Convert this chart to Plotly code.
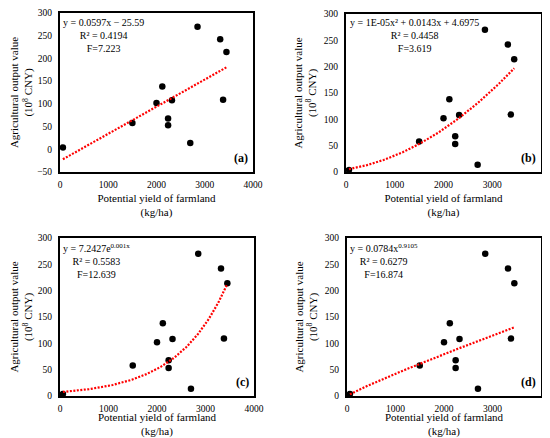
import numpy as np
import plotly.graph_objects as go

# observed data (same points in all four panels)
yield_x = [60, 1500, 2000, 2120, 2240, 2240, 2320, 2700, 2850, 3320, 3380, 3450]
output_y = [4, 58, 102, 138, 68, 53, 108, 14, 270, 242, 109, 214]

# fitted model coefficients
lin_coef = [0.0597, -25.59]
poly_coef = [1.2e-05, 0.0143, 4.6975]
exp_coef = [7.2427, 0.00098]
pow_coef = [0.0784, 0.9105]

panel_labels = ["(a)", "(b)", "(c)", "(d)"]
eq_texts = [
    "y = 0.0597x − 25.59<br>R² = 0.4194<br>F=7.223",
    "y = 1E-05x² + 0.0143x + 4.6975<br>R² = 0.4458<br>F=3.619",
    "y = 7.2427e<sup>0.001x</sup><br>R² = 0.5583<br>F=12.639",
    "y = 0.0784x<sup>0.9105</sup><br>R² = 0.6279<br>F=16.874",
]
y_ranges = [[-50, 300], [0, 300], [0, 300], [0, 300]]
x_range = [0, 4000]

# page has an 8px body margin, so the figure is a bit smaller and shifted
W, H = 542, 430
OX, OY = -5, -2
FONT = "Liberation Serif"

xs = np.linspace(min(yield_x), max(yield_x), 120)
fits = [
    lin_coef[0] * xs + lin_coef[1],
    poly_coef[0] * xs**2 + poly_coef[1] * xs + poly_coef[2],
    exp_coef[0] * np.exp(exp_coef[1] * xs),
    pow_coef[0] * xs ** pow_coef[1],
]

# panel boxes in reference pixels: (left, right, top, bottom)
boxes = [
    (57, 250, 7, 166),
    (343, 538, 8, 166),
    (57, 251, 232, 390),
    (344, 538, 232, 390),
]
eq_centers = [(100, 9), (411, 9), (93, 234), (381, 234)]


def px(x):
    return (x + OX) / W


def py(y):
    return 1 - (y + OY) / H


fig = go.Figure()
layout = {}

for i in range(4):
    ax = "" if i == 0 else str(i + 1)
    l, r, t, b = boxes[i]

    fig.add_trace(
        go.Scatter(
            x=yield_x, y=output_y, mode="markers",
            marker=dict(size=6.5, color="black"),
            xaxis="x" + ax, yaxis="y" + ax, showlegend=False,
        )
    )
    fig.add_trace(
        go.Scatter(
            x=xs, y=fits[i], mode="lines",
            line=dict(color="red", dash="2px,1.5px", width=2.2),
            xaxis="x" + ax, yaxis="y" + ax, showlegend=False,
        )
    )

    layout["xaxis" + ax] = dict(
        domain=[px(l), px(r)], anchor="y" + ax,
        range=x_range, dtick=1000,
        showgrid=False, zeroline=False, automargin=False,
        showline=True, mirror=True, linecolor="black", linewidth=2,
        tickfont=dict(family=FONT, size=9.5, color="black"),
        ticklabelstandoff=3,
        title=dict(
            text="Potential yield of farmland<br>(kg/ha)",
            font=dict(family=FONT, size=11, color="black"),
            standoff=5,
        ),
    )
    layout["yaxis" + ax] = dict(
        domain=[py(b), py(t)], anchor="x" + ax,
        range=y_ranges[i], dtick=50,
        showgrid=False, zeroline=False, automargin=False,
        showline=True, mirror=True, linecolor="black", linewidth=2,
        tickfont=dict(family=FONT, size=9.5, color="black"),
        ticklabelstandoff=4,
        title=dict(
            text="Agricultural output value<br>(10<sup>8</sup> CNY)",
            font=dict(family=FONT, size=11, color="black"),
            standoff=5,
        ),
    )

    cx, cy = eq_centers[i]
    fig.add_annotation(
        text=eq_texts[i], xref="paper", yref="paper",
        x=px(cx), y=py(cy), xanchor="center", yanchor="top",
        align="center", showarrow=False,
        font=dict(family=FONT, size=10, color="black"),
    )
    fig.add_annotation(
        text="<b>" + panel_labels[i] + "</b>", xref="paper", yref="paper",
        x=px(r - 3), y=py(b - 5), xanchor="right", yanchor="bottom",
        showarrow=False,
        font=dict(family=FONT, size=12, color="black"),
    )

fig.update_layout(
    width=W, height=H,
    margin=dict(l=0, r=0, t=0, b=0),
    paper_bgcolor="white", plot_bgcolor="white",
    **layout,
)

fig.write_html("out.html")
